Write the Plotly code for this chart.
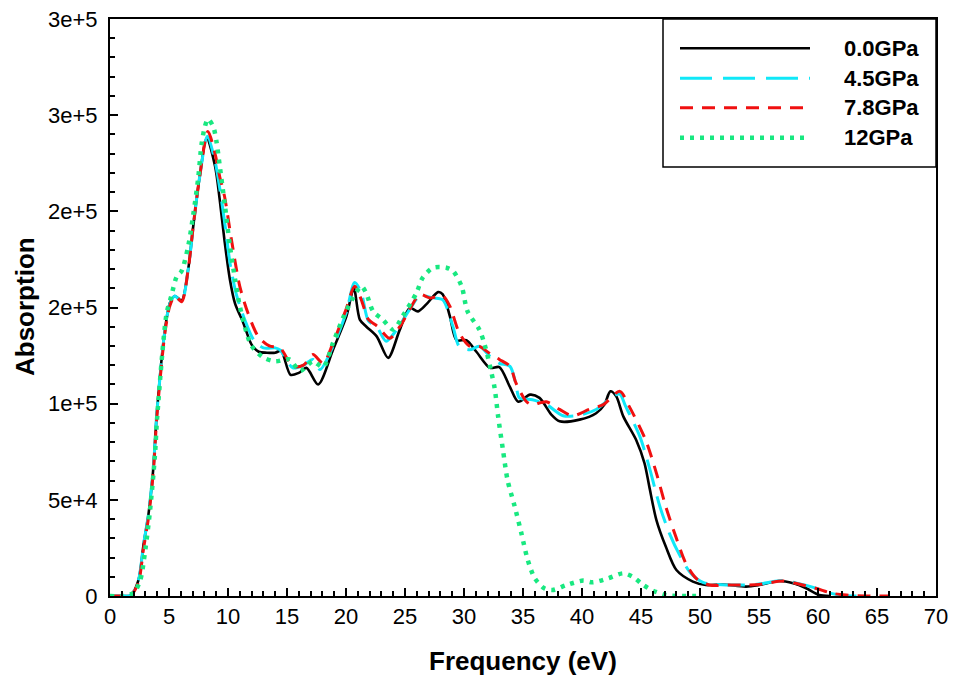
import plotly.graph_objects as go

# ---------------- data (x in eV, y in units of 1000) ----------------
x_00 = [0, 1, 1.75, 2.4, 2.85, 3.27, 3.68, 3.97, 4.66, 5.08, 5.5, 6.07, 6.63, 7.05, 7.6, 8.2,
        8.9, 9.3, 9.7, 10.16, 10.6, 11.3, 12.0, 12.6, 13.3, 14.0, 14.5, 15.3, 16.0, 16.65,
        17.64, 18.9, 20.04, 20.66, 21.17, 21.73, 22.6, 23.57, 24.56, 25.4, 26.1, 26.8, 27.8,
        28.2, 28.8, 29.36, 30.2, 31.05, 32.2, 33.0, 33.87, 34.6, 35.6, 36.4, 37.4, 38.1, 39.8,
        41.2, 41.9, 42.4, 42.9, 43.5, 44.6, 45.3, 45.7, 46.3, 47.1, 48.0, 49.4, 50.5, 51.9,
        53.9, 55.0, 56.7, 57.9, 59.0, 60.1, 61.0]
y_00 = [0, 0, 0.3, 8, 27, 43, 67, 95, 138.5, 152.4, 156, 153.6, 170, 192, 218, 238,
        223.6, 206, 185, 164.6, 152, 142, 130.7, 127, 126.5, 126.5, 127.5, 115, 116, 118.6,
        110, 128, 145.5, 160, 143.7, 140, 135, 123.8, 138.5, 149.8, 148, 151.6, 158,
        156.8, 145.5, 133, 133, 127, 118.6, 119, 109, 101, 104.7, 103, 94.3, 90.8, 91.7,
        95, 99.5, 106.4, 103.8, 93.4, 81, 69, 57, 39.6, 25.7, 13.5, 7.5, 5.7, 6,
        4.9, 5.7, 7.8, 6.6, 4, 0.5, 0]

x_45 = [0, 1, 1.75, 2.4, 2.85, 3.27, 3.68, 3.97, 4.66, 5.08, 5.5, 6.07, 6.63, 7.05, 7.6, 8.25,
        8.9, 9.3, 9.7, 10.2, 10.7, 11.4, 12.2, 13.0, 14.0, 14.4, 15.5, 16.4, 17.2, 17.8,
        18.9, 20.0, 20.74, 21.3, 21.9, 22.6, 23.4, 24.3, 25.4, 26.25, 27.4, 28.2, 29.07,
        29.6, 30.5, 31.3, 32.2, 33.0, 33.9, 34.4, 34.7, 35.8, 37.0, 38.4, 39.8, 41.2, 42.6,
        43.2, 43.7, 44.9, 45.7, 46.6, 47.4, 48.3, 49.2, 50.3, 51.5, 53.5, 55.0, 57.0, 58.1,
        59.6, 61.0, 62.2, 63.5]
y_45 = [0, 0, 0.3, 8, 27, 43, 67, 95, 138.5, 152, 156, 153, 170, 192, 218, 239,
        226, 212, 195, 172, 157, 144, 133, 129, 129, 128, 118.6, 120, 123, 117.7,
        129.8, 147, 163, 157.6, 143, 140, 132.5, 138.5, 149, 156, 155, 154, 140,
        129.8, 128, 129.8, 124.6, 121, 119.4, 110, 103, 102, 99.5, 93.7, 94, 97, 103.8,
        105, 98.6, 83, 67, 46.5, 32.7, 21, 12, 7, 6, 5.7, 6.2, 8, 6.8,
        4.5, 1.5, 0.3, 0]

x_78 = [0, 1, 1.75, 2.4, 2.85, 3.27, 3.68, 3.97, 4.66, 5.08, 5.5, 6.07, 6.63, 7.05, 7.6, 8.3,
        8.9, 9.3, 9.7, 10.3, 11.0, 11.7, 12.56, 13.5, 14.4, 15.5, 16.4, 17.2, 18.06, 18.9,
        20.0, 20.74, 21.3, 21.9, 22.7, 23.7, 24.56, 25.4, 26.25, 27.1, 28.2, 28.8, 29.6,
        30.5, 31.3, 32.2, 33.0, 33.9, 34.4, 35.3, 35.8, 36.97, 38.1, 39.2, 40.6, 41.8, 43.2,
        44.0, 45.4, 46.3, 47.1, 48.0, 48.8, 49.7, 50.8, 52.5, 53.9, 55.0, 57.0, 58.1, 59.8,
        61.2, 62.4, 64, 66]
y_78 = [0, 0, 0.3, 7, 25, 41, 65, 93, 137, 151, 156, 153, 170, 192, 218, 241.5,
        230, 218, 208, 185, 161, 147, 135, 130, 129, 119.4, 120, 125.5, 121, 131.6,
        149, 161, 154, 143.8, 140, 134, 140, 149, 156.8, 155, 156, 150.7, 136.8,
        129.8, 129.8, 126, 123, 119.4, 110.8, 101, 99.5, 101, 97, 93.7, 97, 99.5, 106.4,
        98.6, 81, 64, 46.5, 30, 17, 9, 5.7, 5.7, 5.7, 6, 7.8, 6.6, 4,
        1.4, 0.5, 0, 0]

x_12 = [0, 1, 1.98, 2.55, 2.97, 3.4, 3.8, 4.0, 4.8, 5.2, 5.65, 6.07, 6.63, 7.05, 7.48, 7.76,
        8.04, 8.3, 8.75, 9.03, 9.3, 9.74, 10.16, 10.6, 11.0, 11.57, 12.0, 13.0, 14.0, 15.2,
        16.1, 17.2, 18.06, 18.9, 19.75, 20.6, 21.3, 21.7, 22.3, 23.1, 24.0, 24.8, 25.97,
        26.5, 27.4, 28.5, 29.07, 29.8, 30.3, 31.3, 31.75, 32.3, 32.6, 32.9, 33.3, 33.7, 34.3,
        34.86, 35.4, 36.0, 36.8, 37.5, 38.7, 40.1, 40.9, 42.2, 43.5, 44.3, 45.2, 46.0, 47.1,
        48, 50]
y_12 = [0, 0, 1.5, 8, 23, 45, 72.5, 93, 147, 156, 166, 169, 182, 198, 217.5, 235,
        244, 248, 244, 236, 223.6, 203, 182, 164.6, 150.7, 137, 130, 124, 122, 123,
        117, 122, 119, 131.6, 144.6, 155, 161, 157.6, 148, 143.8, 138.5, 145.5, 157.6,
        165.5, 170.7, 170.7, 169, 161, 148, 138.5, 130.7, 116.8, 108, 93, 76, 60, 46.5,
        32.7, 18.8, 9.2, 4, 3.1, 5.7, 8, 7.1, 9.2, 11.8, 10, 5.7, 2.8, 0.5,
        0, 0]

series_names = ["0.0GPa", "4.5GPa", "7.8GPa", "12GPa"]
y_tickvals = [0, 50000, 100000, 150000, 200000, 250000, 300000]
y_ticktext = ["0", "5e+4", "1e+5", "2e+5", "2e+5", "3e+5", "3e+5"]
x_tickvals = list(range(0, 71, 5))

# ---------------- styles ----------------
styles = [
    dict(color="#000000", width=2.6, dash="solid"),
    dict(color="#10E8F8", width=3, dash="28px,10px"),
    dict(color="#F01010", width=3, dash="13px,9px"),
    dict(color="#18E880", width=4.5, dash="4px,6px"),
]

fig = go.Figure()
data = [(x_00, y_00), (x_45, y_45), (x_78, y_78), (x_12, y_12)]
for (xs, ys), name, st in zip(data, series_names, styles):
    fig.add_trace(go.Scatter(
        x=xs, y=[v * 1000 for v in ys], mode="lines", name=name,
        line=dict(color=st["color"], width=st["width"], dash=st["dash"],
                  shape="spline", smoothing=0.8),
        showlegend=False, hoverinfo="skip"))

W, H = 953, 681
L, R, T, B = 110, 17, 19, 85
pw, ph = W - L - R, H - T - B


def px(xp):
    return (xp - L) / pw


def py(yp):
    return (H - B - yp) / ph


FONT = "Arial, Liberation Sans, sans-serif"

fig.update_layout(
    width=W, height=H,
    margin=dict(l=L, r=R, t=T, b=B, autoexpand=False),
    paper_bgcolor="white", plot_bgcolor="white",
    font=dict(family=FONT, color="black"),
    xaxis=dict(range=[0, 70], tickvals=x_tickvals, ticks="inside", ticklen=8, tickwidth=1.5,
               tickcolor="black", showline=True, linewidth=2, linecolor="black", mirror=True,
               showgrid=False, zeroline=False, tickfont=dict(size=22, family=FONT),
               automargin=False,
               minor=dict(dtick=1, ticks="inside", ticklen=5, tickwidth=1.5, tickcolor="black",
                          showgrid=False)),
    yaxis=dict(range=[0, 300000], tickvals=y_tickvals, ticktext=y_ticktext, ticks="inside",
               ticklen=8, tickwidth=1.5, tickcolor="black", showline=True, linewidth=2,
               linecolor="black", mirror=True, showgrid=False, zeroline=False,
               tickfont=dict(size=22, family=FONT), ticklabelstandoff=6, automargin=False,
               minor=dict(dtick=10000, ticks="inside", ticklen=5, tickwidth=1.5,
                          tickcolor="black", showgrid=False)),
)

annotations = [
    dict(text="<b>Frequency (eV)</b>", x=px(523), y=py(661), xref="paper", yref="paper",
         showarrow=False, font=dict(size=26, family=FONT), xanchor="center", yanchor="middle"),
    dict(text="<b>Absorption</b>", x=px(25), y=py(307), xref="paper", yref="paper",
         showarrow=False, font=dict(size=26, family=FONT), textangle=-90,
         xanchor="center", yanchor="middle"),
]

shapes = [dict(type="rect", xref="paper", yref="paper", x0=px(663), x1=1, y0=py(167), y1=1,
               line=dict(color="black", width=1.5), fillcolor="white", layer="above")]

rows = [48.3, 78.3, 107.7, 137.7]
for yy, name, st in zip(rows, series_names, styles):
    shapes.append(dict(type="line", xref="paper", yref="paper", x0=px(680), x1=px(810),
                       y0=py(yy), y1=py(yy),
                       line=dict(color=st["color"], width=st["width"],
                                 dash=("32px,11px" if name == "4.5GPa" else st["dash"])),
                       layer="above"))
    annotations.append(dict(text="<b>" + name + "</b>", x=px(842), y=py(yy), xref="paper",
                            yref="paper", showarrow=False, xanchor="left", yanchor="middle",
                            font=dict(size=22, family=FONT)))

fig.update_layout(annotations=annotations, shapes=shapes)
fig.write_html("out.html")
